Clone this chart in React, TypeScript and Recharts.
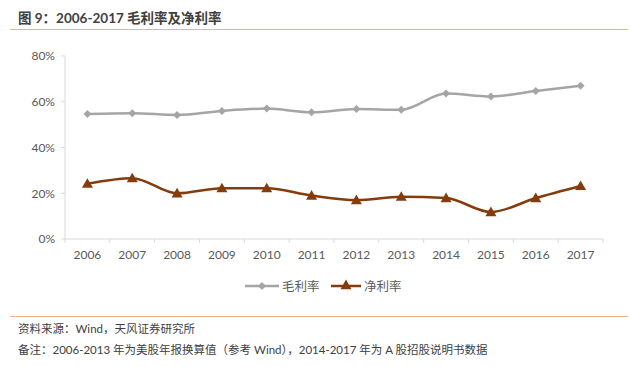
import React from "react";
import { LineChart, Line, XAxis, YAxis } from "recharts";

const years = ["2006", "2007", "2008", "2009", "2010", "2011", "2012", "2013", "2014", "2015", "2016", "2017"];
const grossMargin = [54.6, 55.0, 54.2, 56.0, 57.0, 55.4, 56.8, 56.5, 63.6, 62.3, 64.7, 67.0];
const netMargin = [24.2, 26.6, 20.0, 22.2, 22.2, 19.0, 17.0, 18.5, 17.9, 11.8, 17.9, 23.2];
const yTicks = [0, 20, 40, 60, 80];

const data = years.map((y, i) => ({ year: y, gross: grossMargin[i], net: netMargin[i] }));

const FONT = "Lato, 'Noto Sans CJK SC', sans-serif";
const GREY = "#A5A5A5";
const BROWN = "#843C0C";
const ORANGE = "#F4B183";

const Diamond = (props: any) => {
  const { cx, cy } = props;
  if (cx == null || cy == null) return null;
  const r = 4;
  return <path d={`M${cx},${cy - r}L${cx + r},${cy}L${cx},${cy + r}L${cx - r},${cy}Z`} fill={GREY} />;
};

const Triangle = (props: any) => {
  const { cx, cy } = props;
  if (cx == null || cy == null) return null;
  const r = 5.5;
  return <path d={`M${cx},${cy - r}L${cx + r},${cy + r * 0.75}L${cx - r},${cy + r * 0.75}Z`} fill={BROWN} />;
};

const XTick = (props: any) => {
  const { x, y, payload, index } = props;
  const half = payload && payload.offset ? payload.offset : 22.4;
  const ty = 239;
  return (
    <g>
      <line x1={x - half} x2={x - half} y1={ty} y2={ty + 4} stroke="#D9D9D9" />
      {index === years.length - 1 && (
        <line x1={x + half} x2={x + half} y1={ty} y2={ty + 4} stroke="#D9D9D9" />
      )}
      <text x={x} y={y} dy={12} textAnchor="middle" fill="#595959" fontSize={12} fontFamily={FONT}>
        {payload.value}
      </text>
    </g>
  );
};

export default function App() {
  return (
    <div style={{ position: "absolute", left: 0, top: 0, width: 631, height: 367, background: "#fff", fontFamily: FONT }}>
      <div style={{ position: "absolute", left: 18, top: 7, fontSize: 13.5, fontWeight: 700, color: "#404040", whiteSpace: "nowrap" }}>
        图 9：2006-2017 毛利率及净利率
      </div>
      <div style={{ position: "absolute", left: 10, top: 29, width: 618, height: 1, background: ORANGE }} />
      <div style={{ position: "absolute", left: 0, top: 0 }}>
        <LineChart width={631} height={275} data={data} margin={{ top: 56, right: 28, left: 0, bottom: 15 }}>
          <XAxis
            dataKey="year"
            scale="band"
            height={21}
            axisLine={{ stroke: "#D9D9D9" }}
            tickLine={false}
            tick={<XTick />}
            interval={0}
          />
          <YAxis
            width={65}
            domain={[0, 80]}
            ticks={yTicks}
            tickFormatter={(v: number) => `${v}%`}
            axisLine={{ stroke: "#D9D9D9" }}
            tickLine={{ stroke: "#D9D9D9" }}
            tickSize={4}
            tick={{ fill: "#595959", fontSize: 12, fontFamily: FONT }}
            tickMargin={6}
          />
          <Line
            type="monotone"
            dataKey="gross"
            stroke={GREY}
            strokeWidth={2.5}
            dot={<Diamond />}
            activeDot={false}
            isAnimationActive={false}
          />
          <Line
            type="monotone"
            dataKey="net"
            stroke={BROWN}
            strokeWidth={2.5}
            dot={<Triangle />}
            activeDot={false}
            isAnimationActive={false}
          />
        </LineChart>
      </div>
      <svg style={{ position: "absolute", left: 0, top: 276 }} width={631} height={20}>
        <line x1={245} x2={279} y1={10} y2={10} stroke={GREY} strokeWidth={2.5} />
        <Diamond cx={262} cy={10} />
        <text x={282} y={14.5} fontSize={12.5} fill="#595959" fontFamily={FONT}>毛利率</text>
        <line x1={331} x2={361} y1={10} y2={10} stroke={BROWN} strokeWidth={2.5} />
        <Triangle cx={346} cy={9} />
        <text x={364} y={14.5} fontSize={12.5} fill="#595959" fontFamily={FONT}>净利率</text>
      </svg>
      <div style={{ position: "absolute", left: 10, top: 316, width: 618, height: 1, background: ORANGE }} />
      <div style={{ position: "absolute", left: 18, top: 320, fontSize: 11.5, color: "#404040", whiteSpace: "nowrap" }}>
        资料来源：Wind，天风证券研究所
      </div>
      <div style={{ position: "absolute", left: 18, top: 341, fontSize: 11.5, color: "#404040", whiteSpace: "nowrap" }}>
        备注：2006-2013 年为美股年报换算值（参考 Wind），2014-2017 年为 A 股招股说明书数据
      </div>
    </div>
  );
}
